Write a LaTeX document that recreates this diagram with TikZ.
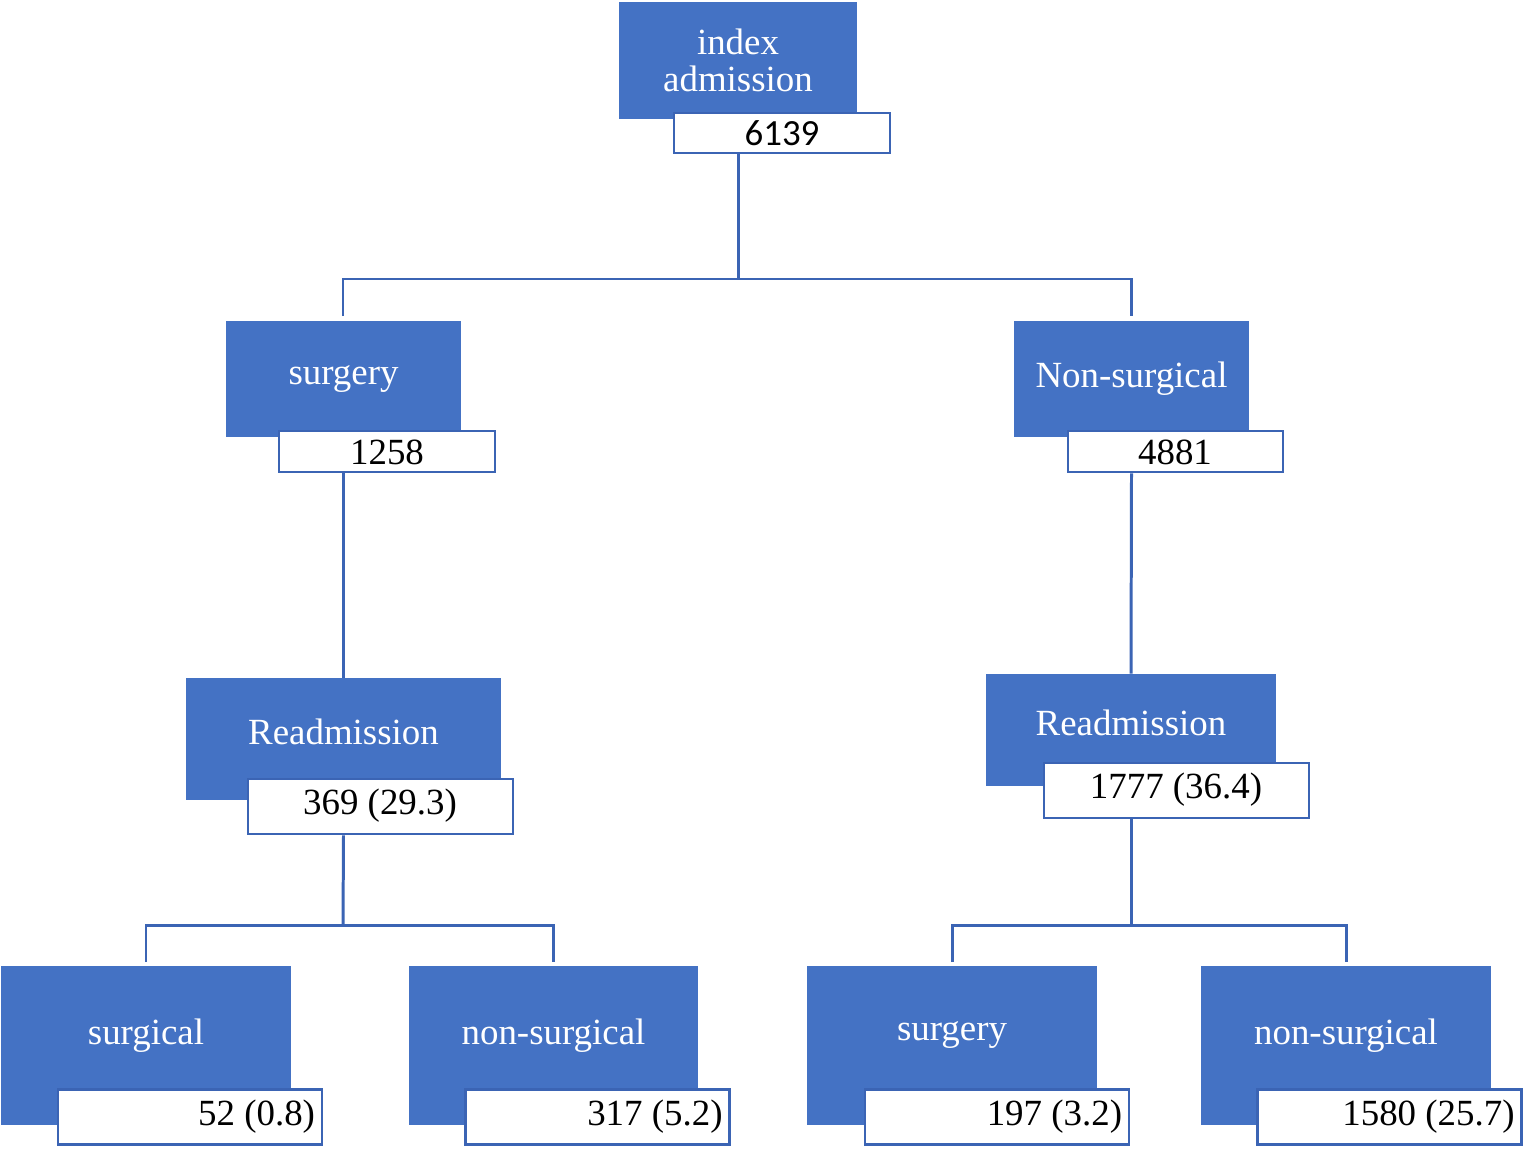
\documentclass[tikz,border=0pt]{standalone}
\usepackage{fontspec}
\setmainfont{Liberation Serif}
\newfontfamily\numfont{Carlito}
\usetikzlibrary{positioning}
\definecolor{boxblue}{HTML}{4472C4}
\definecolor{lineblue}{HTML}{3B64B4}
\tikzset{
  blk/.style={fill=boxblue, text=white, inner sep=0pt, align=center, font=\fontsize{21}{25}\selectfont},
  num/.style={draw=lineblue, line width=1.6pt, fill=white, inner sep=0pt},
  numtxt/.style={inner sep=0pt, font=\fontsize{21}{25}\selectfont},
  link/.style={draw=lineblue, line width=1.7pt}
}
\begin{document}
\begin{tikzpicture}[x=0.02cm, y=-0.02cm]
\useasboundingbox (0,0) rectangle (1524,1149);
% level 0
\node[blk, minimum width=4.76cm, minimum height=2.34cm] (idx) at (738,60.5) {index\\[-4pt]admission};
\node[num, minimum width=4.32cm, minimum height=0.8cm] (idxn) at (782,133) {};
\node[numtxt, font=\numfont\fontsize{21}{25}\selectfont] at (idxn) {6139};
% level 1
\node[blk, minimum width=4.7cm, minimum height=2.32cm] (surg) at (343.5,379) {surgery};
\node[num, minimum width=4.32cm, minimum height=0.82cm] (surgn) at (387,451.5) {};
\node[numtxt] at (387,452) {1258};
\node[blk, minimum width=4.7cm, minimum height=2.32cm] (nons) at (1131.5,379) {Non-surgical};
\node[num, minimum width=4.3cm, minimum height=0.82cm] (nonsn) at (1175.5,451.5) {};
\node[numtxt] at (1175,452) {4881};
% level 2
\node[blk, minimum width=6.3cm, minimum height=2.44cm] (readl) at (343.5,739) {\raisebox{8pt}{Readmission}};
\node[num, minimum width=5.3cm, minimum height=1.1cm] (readln) at (380.5,806.5) {};
\node[numtxt] at (380,806) {369 (29.3)};
\node[blk, minimum width=5.8cm, minimum height=2.24cm] (readr) at (1131,730) {\raisebox{8pt}{Readmission}};
\node[num, minimum width=5.3cm, minimum height=1.1cm] (readrn) at (1176.5,790.5) {};
\node[numtxt] at (1176,790) {1777 (36.4)};
% level 3
\foreach \nm/\cx/\nx/\lab/\val in {ss/146/190/surgical/52 (0.8), sn/553.5/597.5/non-surgical/317 (5.2), rs/952/997/surgery/197 (3.2), rn/1346/1389.5/non-surgical/1580 (25.7)}{
  \node[blk, minimum width=5.8cm, minimum height=3.18cm] (\nm) at (\cx,1045.5) {\raisebox{16pt}{\lab}};
  \node[num, minimum width=5.28cm, minimum height=1.1cm] (\nm n) at (\nx,1117) {};
  \node[numtxt, anchor=east] at ([xshift=-0.16cm]\nm n.east) {\val};
}
% connectors
\coordinate (j0) at (738,279);
\draw[link] (idxn.south -| idx) -- (j0);
\draw[link] (343,316) |- (1131,279) -- (1131,316);
\draw[link] (surgn.south -| surg) -- (readl.north);
\draw[link] (nonsn.south -| nons) -- (readr.north);
\draw[link] (readln.south -| readl) -- (343,925);
\draw[link] (146,962) |- (553,925) -- (553,962);
\draw[link] (readrn.south -| readr) -- (1131,925);
\draw[link] (952,962) |- (1346,925) -- (1346,962);
\end{tikzpicture}
\end{document}
